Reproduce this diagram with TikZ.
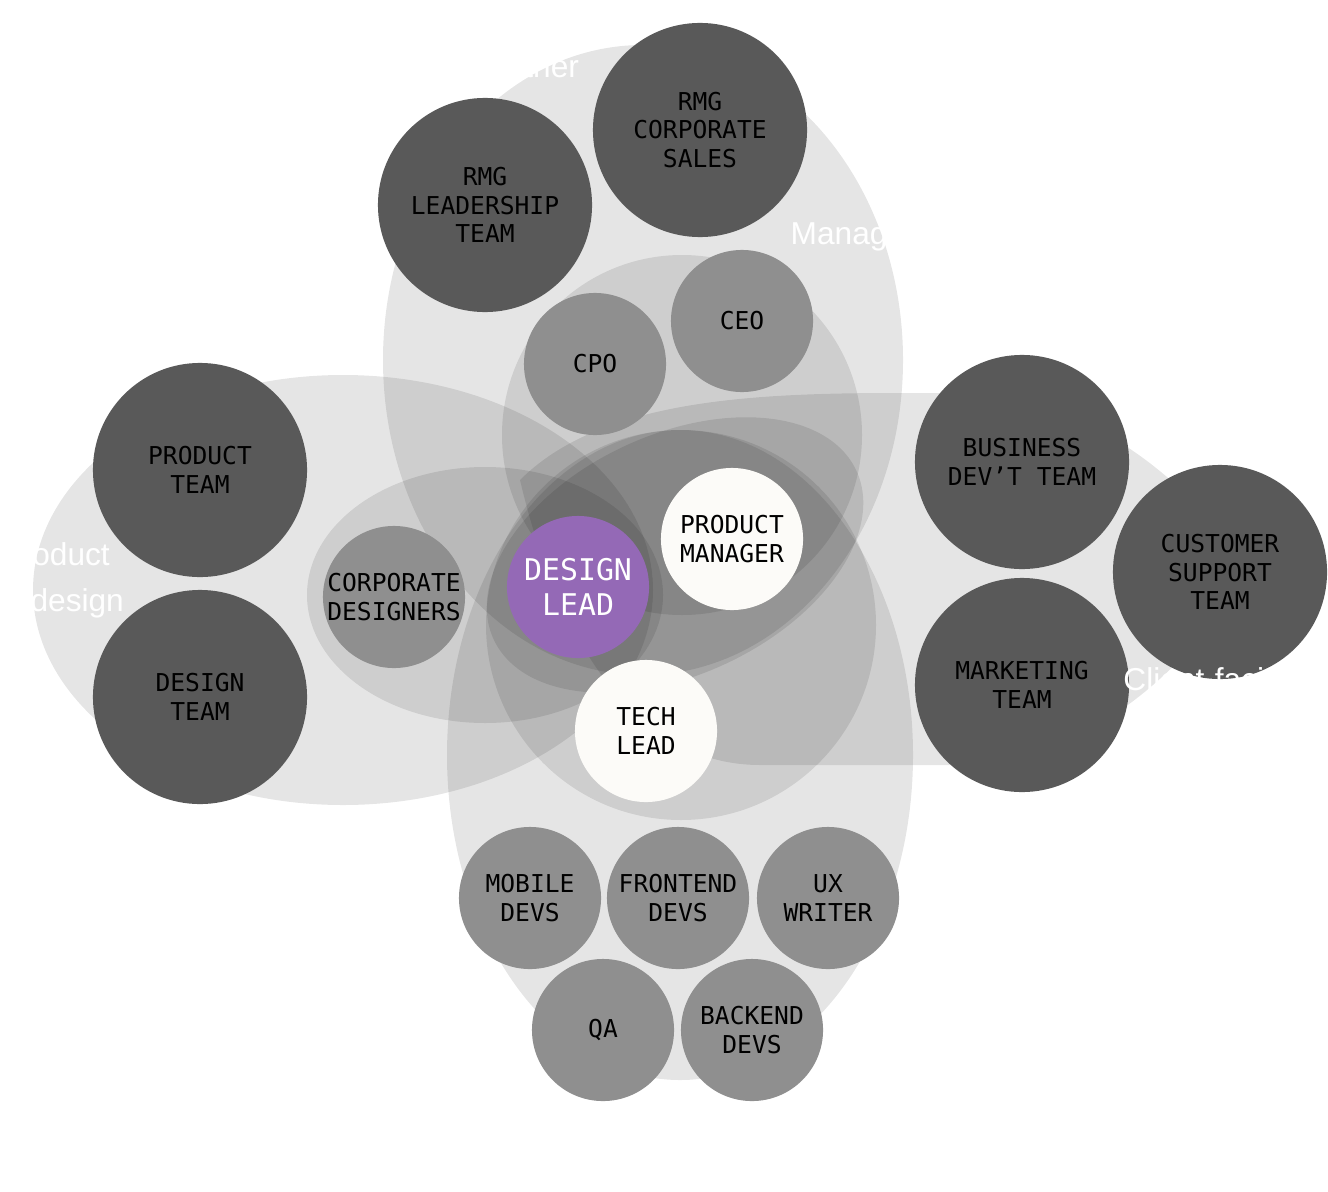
\documentclass[tikz,border=0pt]{standalone}
\usepackage{fontspec}
\setmainfont{Liberation Sans}
\newfontfamily\monof{DejaVu Sans Mono}
\begin{document}
\begin{tikzpicture}[x=0.01cm,y=-0.01cm,
 zone/.style={fill=black,fill opacity=0.1,draw=none},
 big/.style={circle,minimum size=214\pgflinewidth/\pgflinewidth*0.1cm,fill=dgray,text=black,font=\monof\fontsize{7}{8.2}\selectfont,align=center,inner sep=0pt},
 bg/.style={circle,minimum size=2.14cm,fill=dgray,text=black,font=\monof\fontsize{7}{8.2}\selectfont,align=center,inner sep=0pt},
 md/.style={circle,minimum size=1.42cm,fill=mgray,text=black,font=\monof\fontsize{7}{8.2}\selectfont,align=center,inner sep=0pt},
 wh/.style={md,fill=offw},
 lab/.style={text=white,font=\fontsize{9}{13}\selectfont,inner sep=0pt}]
\definecolor{dgray}{HTML}{595959}
\definecolor{mgray}{HTML}{8F8F8F}
\definecolor{offw}{HTML}{FCFBF8}
\definecolor{purp}{HTML}{9469B6}
\useasboundingbox (0,0) rectangle (1328,1191);
% zones
\fill[zone] (643,360) ellipse [x radius=260, y radius=315];
\fill[zone] (682,435) circle [radius=180];
\fill[zone] (343,590) ellipse [x radius=310, y radius=215];
\fill[zone] (485,595) ellipse [x radius=178, y radius=128];
\fill[zone] (680,755) ellipse [x radius=233, y radius=325];
\fill[zone] (681,625) circle [radius=195];
\fill[zone] (675,555) ellipse [x radius=200, y radius=120, rotate=25];
\fill[zone] (520,480) .. controls (600,400) and (750,393) .. (900,393) -- (950,393)
  .. controls (1080,393) and (1180,470) .. (1250,570)
  .. controls (1180,680) and (1080,765) .. (950,765) -- (760,765)
  .. controls (640,765) and (560,650) .. (520,480) -- cycle;
% circles
\node[bg] (rcs) at (700,130) {RMG\\CORPORATE\\SALES};
\node[bg] (rlt) at (485,205) {RMG\\LEADERSHIP\\TEAM};
\node[md] (ceo) at (742,321) {CEO};
\node[md] (cpo) at (595,364) {CPO};
\node[bg] (pt) at (200,470) {PRODUCT\\TEAM};
\node[bg] (dt) at (200,697) {DESIGN\\TEAM};
\node[md] (cd) at (394,597) {CORPORATE\\DESIGNERS};
\node[md,fill=purp,text=white,font=\monof\fontsize{8.5}{10}\selectfont] (dl) at (578,587) {DESIGN\\LEAD};
\node[wh] (pm) at (732,539) {PRODUCT\\MANAGER};
\node[wh] (tl) at (646,731) {TECH\\LEAD};
\node[bg] (bd) at (1022,462) {BUSINESS\\DEV’T TEAM};
\node[bg] (cs) at (1220,572) {CUSTOMER\\SUPPORT\\TEAM};
\node[bg] (mk) at (1022,685) {MARKETING\\TEAM};
\node[md] (mob) at (530,898) {MOBILE\\DEVS};
\node[md] (fe) at (678,898) {FRONTEND\\DEVS};
\node[md] (ux) at (828,898) {UX\\WRITER};
\node[md] (qa) at (603,1030) {QA};
\node[md] (be) at (752,1030) {BACKEND\\DEVS};
% labels
\node[lab,anchor=north west,align=left] (l1) at (478,8) {Strategic\\partner};
\node[lab,anchor=west] (l2) at (790,237) {Management};
\node[lab,anchor=north west,align=left] (l3) at (0,542) {Product\\\& design};
\node[lab,anchor=north east,align=right] (l4) at (1300,667) {Client-facing\\teams};
\node[lab] (l5) at (663,1145) {Squad};
\end{tikzpicture}
\end{document}
